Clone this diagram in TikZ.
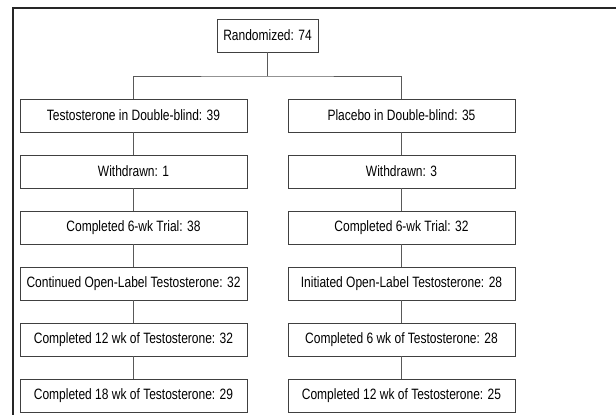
\documentclass[tikz,border=0pt]{standalone}
\usepackage{fontspec}
\setmainfont{Liberation Sans}[FakeStretch=0.8]
\usetikzlibrary{positioning}

\tikzset{
  stage/.style={draw=black!75, line width=0.8pt, minimum width=227pt, minimum height=33pt,
    inner sep=0pt, font=\fontsize{15}{17}\selectfont},
  link/.style={draw=black!65, line width=0.8pt}
}

\begin{document}
\begin{tikzpicture}[x=1pt,y=-1pt]
    \useasboundingbox (0,0) rectangle (616,415);
    % outer frame
    \draw[line width=1.4pt, black!85] (13,415) -- (13,8) -- (616,8);
    \node[stage, minimum width=101pt] (rand) at (267.5,35.5) {Randomized: 74};
    \coordinate (split) at (267.5,76);
    % testosterone arm
    \node[stage] (t1) at (133.5,115.5) {Testosterone in Double-blind: 39};
    \node[stage] (t2) at (133.5,171.5) {Withdrawn: 1};
    \node[stage] (t3) at (133.5,227.5) {Completed 6-wk Trial: 38};
    \node[stage] (t4) at (133.5,283.5) {Continued Open-Label Testosterone: 32};
    \node[stage] (t5) at (133.5,339.5) {Completed 12 wk of Testosterone: 32};
    \node[stage] (t6) at (133.5,396) {Completed 18 wk of Testosterone: 29};
    % placebo arm
    \node[stage] (p1) at (401.5,115.5) {Placebo in Double-blind: 35};
    \node[stage] (p2) at (401.5,171.5) {Withdrawn: 3};
    \node[stage] (p3) at (401.5,227.5) {Completed 6-wk Trial: 32};
    \node[stage] (p4) at (401.5,283.5) {Initiated Open-Label Testosterone: 28};
    \node[stage] (p5) at (401.5,339.5) {Completed 6 wk of Testosterone: 28};
    \node[stage] (p6) at (401.5,396) {Completed 12 wk of Testosterone: 25};
    \draw[link] (rand) -- (split);
    \draw[link] (t1.north) |- (split) -| (p1.north);
    \foreach \a/\b in {1/2,2/3,3/4,4/5,5/6} {
      \draw[link] (t\a) -- (t\b);
      \draw[link] (p\a) -- (p\b);
    }
\end{tikzpicture}
\end{document}
